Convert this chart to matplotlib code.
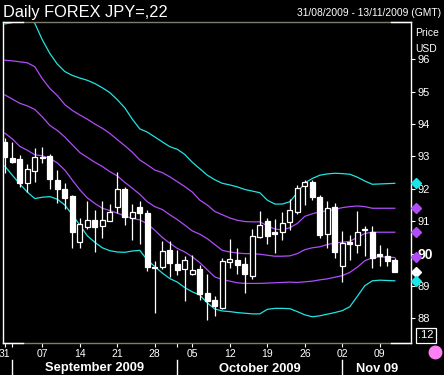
import numpy as np
import matplotlib
matplotlib.use('Agg')
import matplotlib.pyplot as plt
from matplotlib.lines import Line2D
from matplotlib.transforms import blended_transform_factory

plt.rcParams['font.family'] = ['Liberation Sans', 'DejaVu Sans']

# daily JPY= candles, trading days 31/08/2009 .. 11/11/2009 (index 0..52)
opens = [93.46, 92.96, 92.93, 92.19, 92.56, 92.96, 93.01, 92.27, 91.99, 91.78,
         90.37, 90.83, 91.03, 90.86, 91.02, 91.43, 91.99, 91.11, 91.44, 91.25,
         89.60, 89.59, 90.11, 89.68, 89.54, 89.38, 89.52, 88.77, 88.56, 88.33,
         89.73, 89.80, 89.67, 89.32, 90.52, 91.00, 90.66, 90.66, 90.98, 91.29,
         92.10, 92.20, 91.76, 90.61, 91.45, 89.63, 90.35, 90.28, 90.74, 90.68,
         89.98, 89.93, 89.80]
highs = [93.56, 93.46, 93.04, 92.77, 93.25, 93.29, 93.07, 92.58, 92.17, 91.80,
         91.11, 91.62, 91.35, 91.62, 91.52, 92.52, 92.07, 91.53, 91.62, 91.35,
         89.77, 90.39, 90.39, 90.11, 89.92, 89.95, 89.65, 89.37, 88.69, 89.85,
         90.45, 90.16, 89.89, 90.76, 91.31, 91.09, 91.06, 91.27, 91.69, 92.12,
         92.27, 92.27, 91.81, 91.62, 91.55, 90.70, 90.57, 91.31, 90.85, 90.85,
         90.26, 90.16, 89.85]
lows = [92.50, 92.79, 92.07, 91.91, 92.22, 92.79, 91.98, 91.57, 91.37, 90.16,
        90.16, 90.75, 90.06, 90.47, 91.00, 91.24, 90.88, 90.42, 90.29, 89.47,
        88.17, 89.54, 89.29, 89.34, 88.53, 89.34, 88.57, 87.95, 88.08, 88.29,
        89.56, 89.37, 88.79, 89.21, 90.47, 90.30, 90.03, 90.42, 90.73, 91.23,
        91.50, 91.65, 90.49, 90.18, 89.87, 89.13, 89.80, 90.01, 89.92, 89.56,
        89.63, 89.63, 89.42]
closes = [92.99, 92.84, 92.19, 92.61, 92.97, 92.99, 92.31, 92.00, 91.73, 90.68,
          90.90, 91.03, 90.83, 91.03, 91.27, 91.99, 91.14, 91.27, 91.26, 89.59,
          89.56, 90.08, 89.72, 89.49, 89.80, 89.49, 88.74, 88.53, 88.39, 89.77,
          89.82, 89.65, 89.37, 90.54, 90.88, 90.55, 90.61, 90.96, 91.36, 92.01,
          92.20, 91.76, 90.57, 91.40, 90.06, 90.34, 90.30, 90.66, 90.76, 89.87,
          89.94, 89.78, 89.44]

# envelope lines (outer cyan, inner purple)
cyan_up = [97.09, 97.13, 97.35, 97.35, 97.11, 96.60, 96.18, 95.85, 95.62, 95.50,
           95.42, 95.35, 95.25, 95.12, 94.97, 94.75, 94.50, 94.15, 93.85, 93.75,
           93.60, 93.45, 93.30, 93.22, 93.06, 92.82, 92.62, 92.42, 92.28, 92.17,
           92.12, 92.06, 91.98, 91.93, 91.88, 91.65, 91.53, 91.53, 91.60, 91.88,
           92.18, 92.32, 92.42, 92.46, 92.48, 92.47, 92.45, 92.36, 92.24, 92.14,
           92.15, 92.16, 92.17]
purple_up = [95.97, 95.95, 95.92, 95.89, 95.77, 95.40, 95.10, 94.88, 94.60, 94.42,
             94.28, 94.15, 94.00, 93.87, 93.71, 93.52, 93.33, 93.13, 92.89, 92.74,
             92.58, 92.50, 92.37, 92.22, 92.07, 91.90, 91.65, 91.50, 91.30, 91.20,
             91.10, 91.03, 90.99, 90.98, 90.98, 90.86, 90.76, 90.73, 90.80, 90.93,
             91.15, 91.23, 91.29, 91.32, 91.36, 91.42, 91.45, 91.47, 91.45, 91.40,
             91.40, 91.40, 91.40]
purple_mid = [94.90, 94.77, 94.64, 94.56, 94.45, 94.22, 93.96, 93.80, 93.60, 93.36,
              93.12, 92.97, 92.82, 92.69, 92.53, 92.40, 92.20, 92.02, 91.83, 91.60,
              91.45, 91.36, 91.20, 91.05, 90.88, 90.70, 90.60, 90.46, 90.28, 90.10,
              90.05, 90.02, 90.00, 90.00, 89.98, 89.95, 89.92, 89.92, 89.93, 90.00,
              90.12, 90.18, 90.21, 90.28, 90.33, 90.35, 90.38, 90.50, 90.62, 90.66,
              90.66, 90.66, 90.66]
purple_lo = [93.72, 93.54, 93.31, 93.19, 93.05, 93.02, 92.94, 92.80, 92.58, 92.27,
             91.97, 91.72, 91.55, 91.40, 91.33, 91.25, 91.16, 91.09, 91.04, 90.92,
             90.72, 90.50, 90.32, 90.16, 90.05, 89.90, 89.72, 89.50, 89.28, 89.20,
             89.15, 89.10, 89.08, 89.08, 89.08, 89.09, 89.10, 89.11, 89.12, 89.11,
             89.13, 89.15, 89.19, 89.22, 89.27, 89.32, 89.42, 89.58, 89.78, 89.87,
             89.90, 89.89, 89.88]
cyan_lo = [92.70, 92.42, 92.15, 91.90, 91.70, 91.74, 91.76, 91.68, 91.50, 91.20,
           90.88, 90.55, 90.35, 90.18, 90.09, 90.05, 90.04, 90.08, 90.10, 89.80,
           89.60, 89.40, 89.23, 89.12, 88.95, 88.82, 88.72, 88.48, 88.29, 88.23,
           88.21, 88.18, 88.16, 88.14, 88.14, 88.28, 88.31, 88.31, 88.30, 88.21,
           88.11, 88.05, 88.08, 88.13, 88.18, 88.24, 88.36, 88.68, 89.01, 89.16,
           89.18, 89.17, 89.16]

week_idx = [0, 5, 10, 15, 20, 25, 30, 35, 40, 45, 50]
week_labels = ['31', '07', '14', '21', '28', '05', '12', '19', '26', '02', '09']
month_start = [1, 23, 45]
month_names = ['September 2009', 'October 2009', 'Nov 09']
price_ticks = [88, 89, 90, 91, 92, 93, 94, 95, 96]

CYAN = '#20e4e4'
PURPLE = '#b04cfa'

W, H = 444, 375
fig = plt.figure(figsize=(W / 100, H / 100), dpi=100, facecolor='black')
ax = fig.add_axes([2.7 / W, 1 - 342.7 / H, (411 - 2.7) / W, (342.7 - 22.3) / H])
ax.set_facecolor('black')

x = np.arange(len(opens))
o = np.array(opens); c = np.array(closes)
up = c >= o
bot = np.minimum(o, c)
hgt = np.maximum(np.abs(c - o), 0.02)

for vals, col in [(cyan_up, CYAN), (purple_up, PURPLE), (purple_mid, PURPLE),
                  (purple_lo, PURPLE), (cyan_lo, CYAN)]:
    ax.plot(x, vals, color=col, lw=0.9, zorder=2)

ax.vlines(x, lows, highs, color='white', lw=0.9, zorder=3)
ax.bar(x[up], hgt[up], 0.62, bottom=bot[up], facecolor='black',
       edgecolor='white', lw=0.9, zorder=4)
ax.bar(x[~up], hgt[~up], 0.62, bottom=bot[~up], facecolor='white',
       edgecolor='white', lw=0.9, zorder=4)

ax.set_xlim(-0.28, 54.16)
ax.set_ylim(87.25, 97.14)

# last-value markers beside the price axis
last = [(cyan_up[-1], CYAN), (purple_up[-1], PURPLE), (purple_mid[-1], PURPLE),
        (purple_lo[-1], PURPLE), (closes[-1], 'white'), (cyan_lo[-1], CYAN)]
for v, col in last:
    ax.plot([54.8], [v], marker='D', ms=5.5, color=col, mec=col,
            clip_on=False, zorder=6)

# axes frame
for s in ['left', 'right']:
    ax.spines[s].set_color('white')
    ax.spines[s].set_linewidth(1)
for s in ['top', 'bottom']:
    ax.spines[s].set_color('#7c7c6c')
    ax.spines[s].set_linewidth(1)
for yy in [0, 1]:
    ax.plot([0, 20 / 408.3], [yy, yy], color='white', lw=1,
            transform=ax.transAxes, clip_on=False, zorder=7)
    ax.plot([388.5 / 408.3, 1], [yy, yy], color='white', lw=1,
            transform=ax.transAxes, clip_on=False, zorder=7)

ax.yaxis.tick_right()
ax.set_yticks(price_ticks)
ax.set_yticklabels([str(p) for p in price_ticks])
ax.tick_params(axis='y', colors='white', length=3, width=0.8, pad=2,
               labelsize=8)
for lbl in ax.get_yticklabels():
    if lbl.get_text() == '90':
        lbl.set_fontweight('bold')
        lbl.set_fontsize(10)

ax.set_xticks(week_idx)
ax.set_xticklabels(week_labels)
ax.set_xticks(month_start[:2], minor=True)
ax.tick_params(axis='x', which='both', colors='white', length=3, width=0.8,
               pad=1.5, labelsize=7.5)

# texts
fig.text(3 / W, 1 - 16.5 / H, 'Daily FOREX JPY=,22', color='white',
         fontsize=11.8, va='baseline', ha='left')
fig.text(441 / W, 1 - 16 / H, '31/08/2009 - 13/11/2009 (GMT)', color='white',
         fontsize=7.4, va='baseline', ha='right')
fig.text(415.5 / W, 1 - 32.5 / H, 'Price', color='white', fontsize=7.5,
         va='center', ha='left')
fig.text(415.5 / W, 1 - 48.5 / H, 'USD', color='white', fontsize=7.5,
         va='center', ha='left')
fig.text(426 / W, 1 - 335.5 / H, '.12', color='white', fontsize=8,
         va='center', ha='center',
         bbox=dict(boxstyle='square,pad=0.2', facecolor='black',
                   edgecolor='white', lw=0.9))
fig.add_artist(Line2D([435 / W], [1 - 352 / H], marker='o', ms=9,
                      color='#ff80f4', transform=fig.transFigure))

# month bands along the bottom
blend = blended_transform_factory(ax.transData, fig.transFigure)
edges = month_start + [54.16]
for k, name in enumerate(month_names):
    ax.plot([month_start[k], month_start[k]], [0, 1 - 360 / H], color='white',
            lw=1, transform=blend, clip_on=False)
    fig.text((edges[k] + edges[k + 1]) / 2, 1 - 368.5 / H, name,
             transform=blend, color='white', fontsize=9.3, fontweight='bold',
             va='center', ha='center')

fig.savefig('out.png', dpi=100, facecolor='black')
